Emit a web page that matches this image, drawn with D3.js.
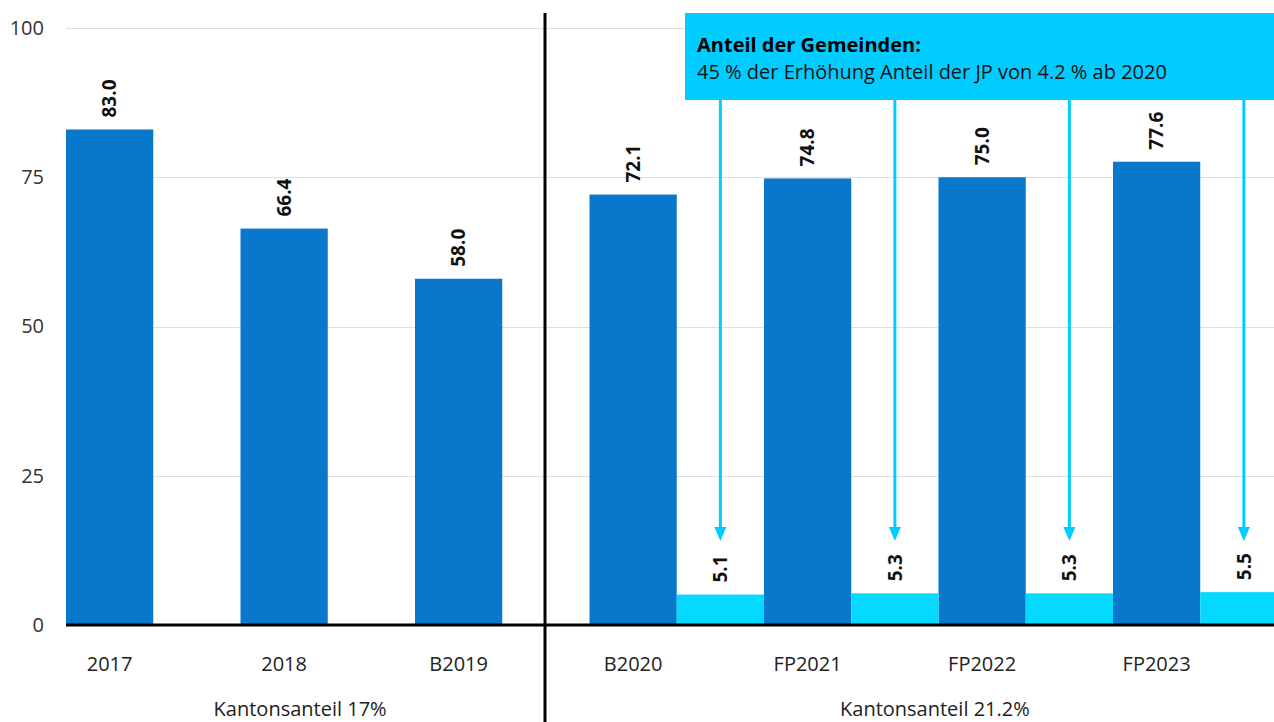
<!DOCTYPE html>
<html>
<head>
<meta charset="utf-8">
<script src="https://cdn.jsdelivr.net/npm/d3@7"></script>
<style>
  html, body { margin: 0; padding: 0; background: #fff; overflow: hidden; }
  svg { display: block; font-family: "Open Sans", "Noto Sans", sans-serif; }
</style>
</head>
<body>
<svg id="chart" width="1274" height="722"></svg>
<script>
// Categories (budget years) and values in CHF millions
const categories = ["2017", "2018", "B2019", "B2020", "FP2021", "FP2022", "FP2023"];
const kantonValues = [83.0, 66.4, 58.0, 72.1, 74.8, 75.0, 77.6];
const gemeindenValues = [null, null, null, 5.1, 5.3, 5.3, 5.5];
const yTicks = [0, 25, 50, 75, 100];
const groupLabels = ["Kantonsanteil 17%", "Kantonsanteil 21.2%"];
const groupRanges = [["2017", "B2019"], ["B2020", "FP2023"]];
const noteTitle = "Anteil der Gemeinden:";
const noteText = "45 % der Erhöhung Anteil der JP von 4.2 % ab 2020";

const W = 1274, H = 722;
const svg = d3.select("#chart");

const blue = "#0877CC";
const cyan = "#05D9FF";
const boxCyan = "#00CCFF";

const x = d3.scaleBand().domain(categories).range([66, 66 + 7 * 174.5]).paddingInner(0).paddingOuter(0);
const sub = d3.scaleBand().domain(["kanton", "gemeinden"]).range([0, x.bandwidth()]).padding(0);
const y = d3.scaleLinear().domain([0, 100]).range([625, 28]);

// Y axis labels
const yAxis = d3.axisLeft(y).tickValues(yTicks).tickSize(0).tickPadding(0);
const gy = svg.append("g").attr("transform", "translate(44,0)").call(yAxis);
gy.select(".domain").remove();
gy.selectAll("text").attr("font-size", 20).attr("fill", "#333").attr("font-family", "Open Sans");

// Horizontal gridlines
svg.append("g").selectAll("line").data(yTicks.filter(d => d > 0)).join("line")
  .attr("x1", 66).attr("x2", W)
  .attr("y1", d => Math.round(y(d)) + 0.5).attr("y2", d => Math.round(y(d)) + 0.5)
  .attr("stroke", "#DCE0E6").attr("stroke-width", 1);

// Kanton bars
svg.append("g").selectAll("rect").data(categories).join("rect")
  .attr("x", d => x(d) + sub("kanton"))
  .attr("y", (d, i) => y(kantonValues[i]))
  .attr("width", sub.bandwidth())
  .attr("height", (d, i) => y(0) - y(kantonValues[i]))
  .attr("fill", blue);

// Gemeinden bars
const gem = categories.map((c, i) => ({ c, v: gemeindenValues[i] })).filter(d => d.v != null);
svg.append("g").selectAll("rect").data(gem).join("rect")
  .attr("x", d => x(d.c) + sub("gemeinden"))
  .attr("y", d => y(d.v))
  .attr("width", sub.bandwidth())
  .attr("height", d => y(0) - y(d.v))
  .attr("fill", cyan);

// Value labels (rotated)
function valueLabel(cx, v) {
  svg.append("text")
    .attr("transform", `translate(${cx},${y(v) - 12}) rotate(-90)`)
    .attr("text-anchor", "start")
    .attr("dy", "0.36em")
    .attr("font-size", 19)
    .attr("font-weight", "bold")
    .attr("fill", "#111")
    .text(v.toFixed(1));
}
categories.forEach((c, i) => valueLabel(x(c) + sub("kanton") + sub.bandwidth() / 2, kantonValues[i]));
gem.forEach(d => valueLabel(x(d.c) + sub("gemeinden") + sub.bandwidth() / 2, d.v));

// Baseline axis
svg.append("line").attr("x1", 66).attr("x2", W).attr("y1", y(0)).attr("y2", y(0))
  .attr("stroke", "#000").attr("stroke-width", 3);

// Category labels
svg.append("g").selectAll("text").data(categories).join("text")
  .attr("x", d => x(d) + sub("kanton") + sub.bandwidth() / 2)
  .attr("y", 671)
  .attr("text-anchor", "middle")
  .attr("font-size", 20)
  .attr("fill", "#222")
  .text(d => d);

// Group labels
groupLabels.forEach((g, i) => {
  const [a, b] = groupRanges[i];
  const cx = (x(a) + sub("kanton") + sub.bandwidth() / 2 + x(b) + sub("kanton") + sub.bandwidth() / 2) / 2;
  svg.append("text").attr("x", i === 0 ? cx + 16 : cx + 40).attr("y", 716)
    .attr("text-anchor", "middle").attr("font-size", 20).attr("fill", "#222").text(g);
});

// Divider between the two periods
svg.append("line").attr("x1", 545).attr("x2", 545).attr("y1", 13).attr("y2", H)
  .attr("stroke", "#000").attr("stroke-width", 3);

// Note box
svg.append("rect").attr("x", 685).attr("y", 13).attr("width", W - 685).attr("height", 87).attr("fill", boxCyan);
svg.append("text").attr("x", 697).attr("y", 52).attr("font-size", 20).attr("font-weight", "bold").attr("fill", "#000").text(noteTitle);
svg.append("text").attr("x", 697).attr("y", 79).attr("font-size", 20).attr("fill", "#111").text(noteText);

// Arrows from the note to each Gemeinden bar
const arrows = svg.append("g");
gem.forEach(d => {
  const cx = x(d.c) + sub("gemeinden") + sub.bandwidth() / 2;
  const tip = 541;
  arrows.append("line").attr("x1", cx).attr("x2", cx).attr("y1", 100).attr("y2", tip - 12)
    .attr("stroke", boxCyan).attr("stroke-width", 3);
  arrows.append("path")
    .attr("d", `M${cx - 6},${tip - 14}L${cx + 6},${tip - 14}L${cx},${tip}Z`)
    .attr("fill", boxCyan);
});
</script>
</body>
</html>
